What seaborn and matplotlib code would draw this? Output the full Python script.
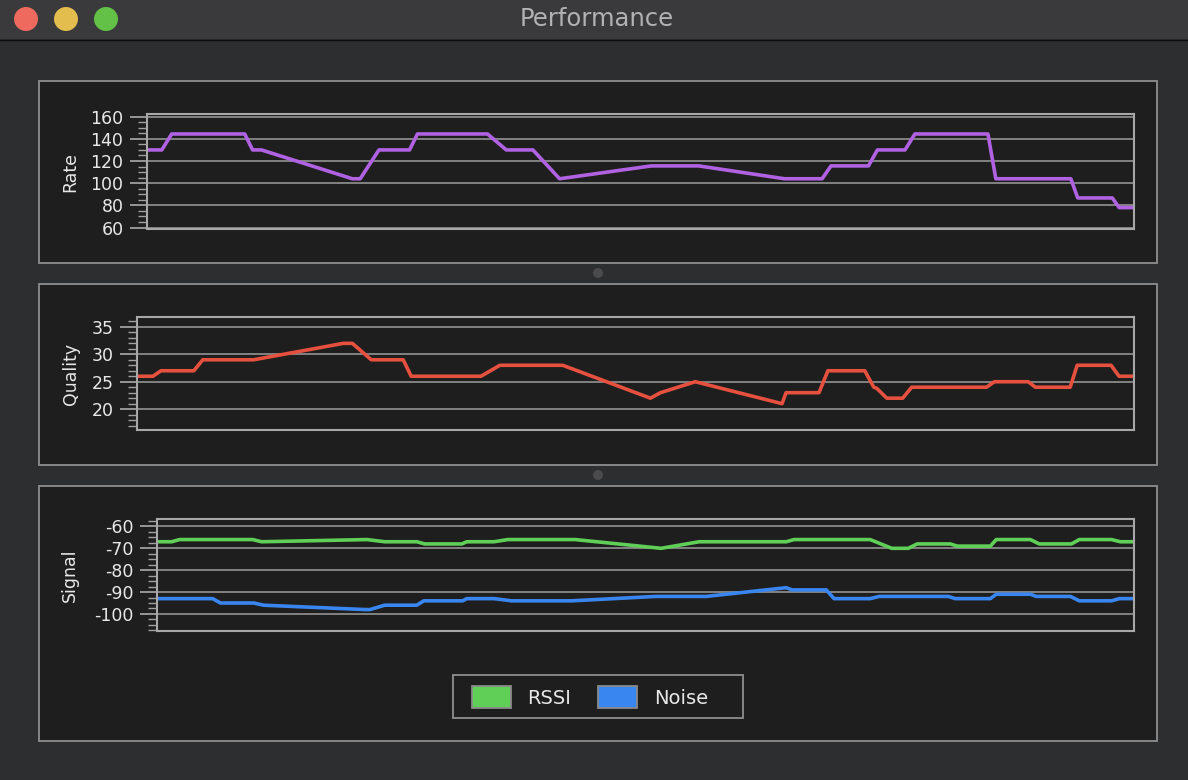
import matplotlib
matplotlib.use("Agg")
import matplotlib.pyplot as plt
from matplotlib.patches import Rectangle, Circle, Patch
from matplotlib.ticker import MultipleLocator
import seaborn as sns

# sample times (0-100 across the plot width) and the readings at each
rate_t = [0, 1.5, 2.5, 9.9, 10.7, 11.6, 20.8, 21.6, 23.5, 26.6, 27.4, 34.5, 36.4, 39.1, 41.8,
          51.1, 55.9, 64.6, 68.4, 69.3, 73.1, 74.0, 76.8, 77.8, 85.2, 86.0, 93.6, 94.3, 97.8, 98.5, 100]
rate = [130, 130, 144.4, 144.4, 130, 130, 104, 104, 130, 130, 144.4, 144.4, 130, 130, 104,
        115.6, 115.6, 104, 104, 115.6, 115.6, 130, 130, 144.4, 144.4, 104, 104, 86.7, 86.7, 78, 78]

quality_t = [0, 1.6, 2.4, 5.7, 6.6, 11.7, 20.7, 21.6, 23.5, 26.7, 27.5, 34.5, 36.4, 42.7, 51.5, 52.5,
             56.0, 64.7, 65.1, 68.4, 69.3, 73.0, 73.9, 74.2, 75.2, 76.8, 77.7, 85.2, 86.0, 89.4, 90.1,
             93.6, 94.3, 97.7, 98.5, 100]
quality = [26, 26, 27, 27, 29, 29, 32, 32, 29, 29, 26, 26, 28, 28, 22, 23,
           25, 21, 23, 23, 27, 27, 24, 23.8, 22, 22, 24, 24, 25, 25, 24,
           24, 28, 28, 26, 26]

rssi_t = [0, 1.5, 2.3, 9.8, 10.7, 21.5, 23.3, 26.6, 27.4, 31.2, 31.7, 34.5, 35.9, 42.8, 51.6, 55.5,
          64.4, 65.2, 73.0, 74.1, 75.2, 76.9, 77.8, 81.2, 81.9, 85.3, 85.9, 89.4, 90.3, 93.6, 94.4,
          97.7, 98.6, 100]
rssi = [-67, -67, -66, -66, -67, -66, -67, -67, -68, -68, -67, -67, -66, -66, -70, -67,
        -67, -66, -66, -68, -70, -70, -68, -68, -69, -69, -66, -66, -68, -68, -66,
        -66, -67, -67]

noise_t = [0, 5.7, 6.5, 9.9, 10.9, 21.3, 21.8, 23.3, 26.6, 27.3, 31.3, 31.7, 34.5, 36.3, 42.5, 51.0,
           56.2, 64.4, 65.0, 68.5, 69.3, 73.0, 73.9, 81.0, 81.7, 85.3, 85.9, 89.4, 90.0, 93.5, 94.4,
           97.7, 98.5, 100]
noise = [-93, -93, -95, -95, -96, -98, -98, -96, -96, -94, -94, -93, -93, -94, -94, -92,
         -92, -88, -89, -89, -93, -93, -92, -92, -93, -93, -91, -91, -92, -92, -94,
         -94, -93, -93]

legend_labels = ["RSSI", "Noise"]

W, H = 1188, 780
PANEL = "#1e1e1e"
TEXT = "#e8e8e8"

sns.set_theme(style="dark", rc={"axes.facecolor": PANEL, "figure.facecolor": "#2d2e30"})
plt.rcParams["font.family"] = ["DejaVu Sans"]
plt.rcParams["axes.unicode_minus"] = False

fig = plt.figure(figsize=(W / 100, H / 100), dpi=100)

# window chrome drawn in pixel coordinates
bg = fig.add_axes([0, 0, 1, 1])
bg.set_xlim(0, W)
bg.set_ylim(H, 0)
bg.axis("off")
bg.add_patch(Rectangle((0, 0), W, 39, fc="#3a3a3c", ec="none"))
bg.plot([0, W], [39.5, 39.5], color="#0c0c0c", lw=1)
for cx, c in zip([26, 66, 106], ["#ee6a5f", "#e4bd4f", "#63c148"]):
    bg.add_patch(Circle((cx, 19), 12, fc=c, ec="none"))
bg.text(597, 19, "Performance", color="#b2b2b2", fontsize=17.5, ha="center", va="center")
for top, bottom in [(81, 263), (284, 465), (486, 741)]:
    bg.add_patch(Rectangle((39, top), 1118, bottom - top, fc=PANEL, ec="#8e8e8e", lw=1.3))
for cy in [273, 475]:
    bg.add_patch(Circle((598, cy), 5, fc="#4b4b4d", ec="none"))
bg.add_patch(Rectangle((453, 675), 290, 43, fc="none", ec="#8e8e8e", lw=1.3))


def px_axes(left, top, right, bottom):
    return fig.add_axes([left / W, 1 - bottom / H, (right - left) / W, (bottom - top) / H])


def style(ax, ylim, major, minor, label, label_x):
    ax.set_facecolor(PANEL)
    ax.set_xlim(0, 100)
    ax.set_ylim(*ylim)
    ax.set_xticks([])
    ax.set_xlabel("")
    ax.yaxis.set_major_locator(MultipleLocator(major))
    ax.yaxis.set_minor_locator(MultipleLocator(minor))
    ax.grid(True, axis="y", which="major", color="#8a8a8a", lw=1.3)
    ax.grid(False, which="minor")
    ax.tick_params(axis="y", which="major", left=True, length=12, width=1.3, color="#a0a0a0",
                   labelcolor=TEXT, labelsize=12.5, pad=5)
    ax.tick_params(axis="y", which="minor", left=True, length=6.5, width=1.0, color="#a0a0a0")
    for s in ax.spines.values():
        s.set_color("#a8a8a8")
        s.set_linewidth(1.5)
        s.set_visible(True)
    ax.set_ylabel(label, color=TEXT, fontsize=12.5)
    ax.yaxis.set_label_coords(label_x, 0.5)


ax1 = px_axes(147, 114, 1134, 229)
sns.lineplot(x=rate_t, y=rate, ax=ax1, color="#b062e2", lw=2.6, estimator=None)
style(ax1, (58.7, 162.4), 20, 5, "Rate", (79 - 147) / 987)

ax2 = px_axes(137, 317, 1134, 430)
sns.lineplot(x=quality_t, y=quality, ax=ax2, color="#e6503f", lw=2.6, estimator=None)
style(ax2, (16.2, 36.8), 5, 1, "Quality", (80 - 137) / 997)

ax3 = px_axes(157, 519, 1134, 631)
sns.lineplot(x=rssi_t, y=rssi, ax=ax3, color="#5fcf58", lw=2.6, estimator=None)
sns.lineplot(x=noise_t, y=noise, ax=ax3, color="#3a86f0", lw=2.6, estimator=None)
style(ax3, (-107.8, -56.6), 10, 2.5, "Signal", (79 - 157) / 977)

handles = [Patch(fc="#5fcf58", ec="#8a8a8a", lw=1.3), Patch(fc="#3a86f0", ec="#8a8a8a", lw=1.3)]
ax3.legend(handles, legend_labels, loc="center", bbox_to_anchor=(590 / W, 1 - 697 / H),
           bbox_transform=fig.transFigure, ncol=2, frameon=False, fontsize=14,
           handlelength=2.0, handleheight=1.3, handletextpad=0.85, columnspacing=1.4,
           labelcolor=TEXT)

fig.savefig("out.png", dpi=100, facecolor=fig.get_facecolor())
